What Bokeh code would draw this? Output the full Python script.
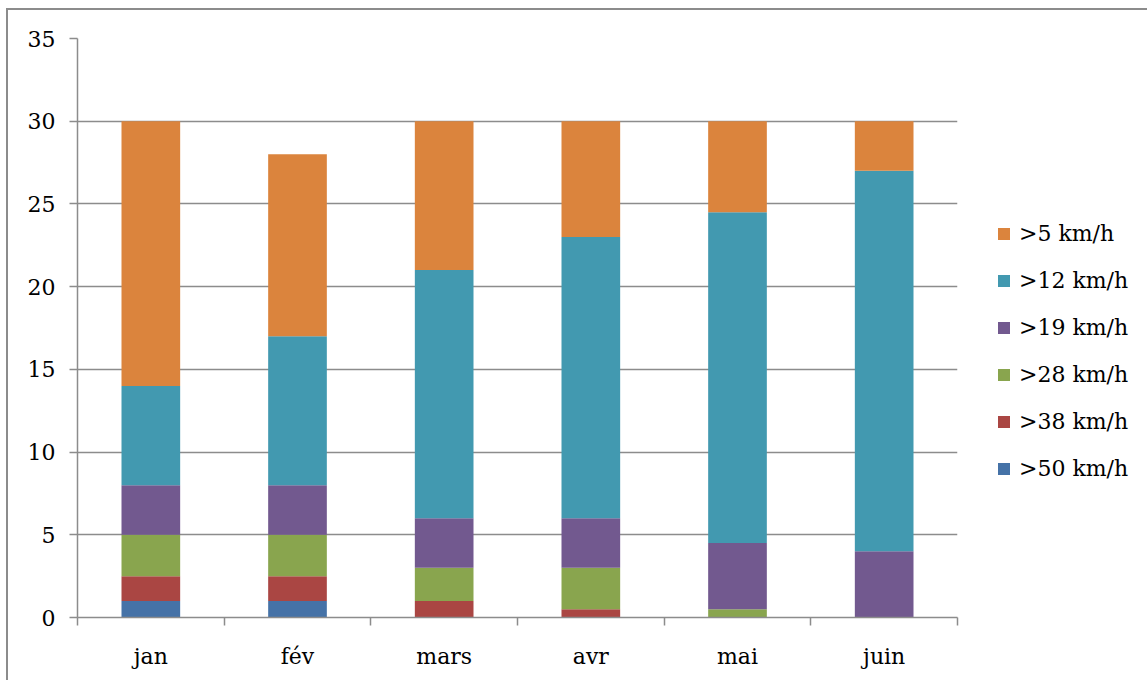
from bokeh.plotting import figure
from bokeh.models import ColumnDataSource, FixedTicker, Legend, LegendItem, Range1d
from bokeh.embed import file_html
from bokeh.resources import INLINE

months = ["jan", "fév", "mars", "avr", "mai", "juin"]
s50 = [1, 1, 0, 0, 0, 0]
s38 = [1.5, 1.5, 1, 0.5, 0, 0]
s28 = [2.5, 2.5, 2, 2.5, 0.5, 0]
s19 = [3, 3, 3, 3, 4, 4]
s12 = [6, 9, 15, 17, 20, 23]
s5 = [16, 11, 9, 7, 5.5, 3]
series_names = [">50 km/h", ">38 km/h", ">28 km/h", ">19 km/h", ">12 km/h", ">5 km/h"]
colors = ["#4572A7", "#AA4643", "#89A54E", "#72598F", "#4299B0", "#DB843D"]
y_ticks = [0, 5, 10, 15, 20, 25, 30, 35]

FONT = "DejaVu Serif"
FS = "22px"
GREY = "#8c8c8c"

xs = [i + 0.5 for i in range(len(months))]
keys = ["s50", "s38", "s28", "s19", "s12", "s5"]
src = ColumnDataSource(dict(x=xs, s50=s50, s38=s38, s28=s28, s19=s19, s12=s12, s5=s5))

p = figure(width=1141, height=672, output_backend="svg", toolbar_location=None,
           x_range=Range1d(0, len(months)), y_range=Range1d(0, 35),
           frame_width=880, frame_height=579,
           min_border_left=69, min_border_right=10, min_border_top=28, min_border_bottom=66)
p.margin = (8, 0, 0, 6)
p.styles = {"border-left": "2px solid #8c8c8c", "border-top": "2px solid #8c8c8c"}
p.outline_line_color = None
p.background_fill_color = "white"
p.border_fill_color = "white"

rs = p.vbar_stack(keys, x="x", width=0.4, color=colors, source=src, line_color=None)

# axes
p.xgrid.visible = False
p.ygrid.grid_line_color = GREY
p.ygrid.grid_line_width = 1.5
p.yaxis.ticker = FixedTicker(ticks=y_ticks)
p.yaxis.axis_line_color = GREY
p.yaxis.axis_line_width = 1.5
p.yaxis.major_tick_line_color = GREY
p.yaxis.major_tick_line_width = 1.5
p.yaxis.major_tick_out = 8
p.yaxis.major_tick_in = 0
p.yaxis.minor_tick_line_color = None
p.yaxis.major_label_standoff = 14
p.yaxis.major_label_text_font = FONT
p.yaxis.major_label_text_font_size = FS
p.yaxis.major_label_text_color = "black"

p.xaxis.ticker = FixedTicker(ticks=xs, minor_ticks=list(range(len(months) + 1)))
p.xaxis.major_label_overrides = {x: m for x, m in zip(xs, months)}
p.xaxis.axis_line_color = GREY
p.xaxis.axis_line_width = 1.5
p.xaxis.major_tick_line_color = None
p.xaxis.major_tick_out = 0
p.xaxis.major_tick_in = 0
p.xaxis.minor_tick_line_color = GREY
p.xaxis.minor_tick_line_width = 1.5
p.xaxis.minor_tick_out = 8
p.xaxis.minor_tick_in = 0
p.xaxis.major_label_standoff = 18
p.xaxis.major_label_text_font = FONT
p.xaxis.major_label_text_font_size = FS
p.xaxis.major_label_text_color = "black"

items = [LegendItem(label=n, renderers=[r]) for n, r in zip(series_names, rs)][::-1]
legend = Legend(items=items, location=(39, 136), border_line_color=None,
                background_fill_alpha=0, padding=0, margin=0,
                glyph_width=15, glyph_height=15, label_height=26, spacing=21,
                label_standoff=8, label_text_font=FONT, label_text_font_size=FS,
                label_text_color="black")
p.add_layout(legend, "right")

open("out.html", "w").write(file_html(p, INLINE))
